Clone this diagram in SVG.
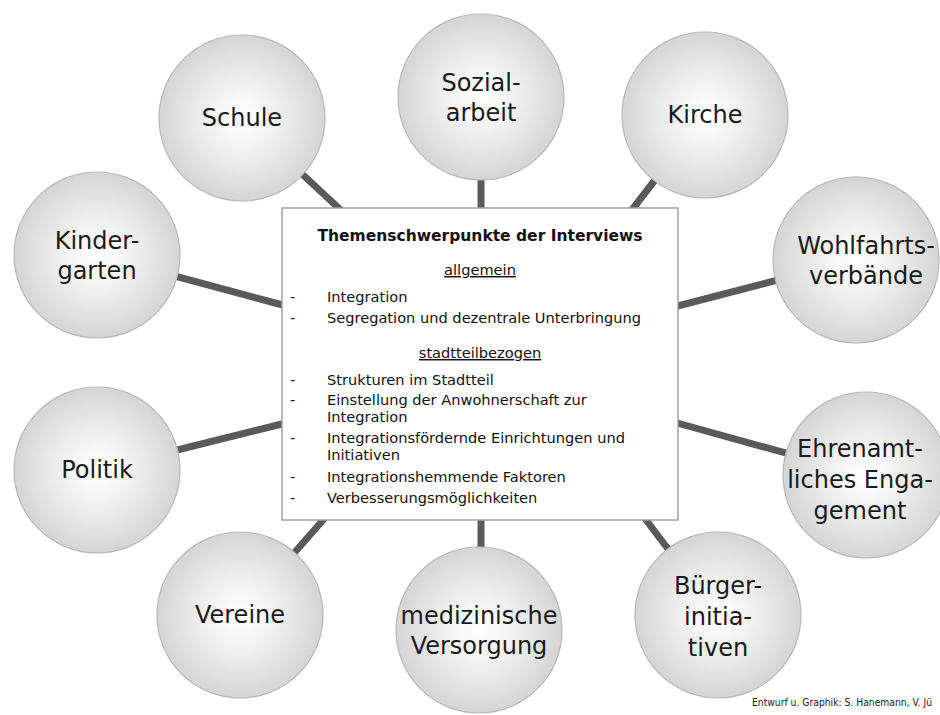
<svg xmlns="http://www.w3.org/2000/svg" width="940" height="715" viewBox="0 0 940 715">
<style>
.conn{stroke:#5a5a5a;stroke-width:7;fill:none}
.node circle{fill:url(#g);stroke:#b8b8b8;stroke-width:1.2}
.lbl{font-family:"DejaVu Sans","Liberation Sans",sans-serif;font-size:24px;fill:#1a1a1a;text-anchor:middle}
.bx{font-family:"DejaVu Sans","Liberation Sans",sans-serif;font-size:14.6px;fill:#111}
.c{text-anchor:middle}
.t{font-weight:bold;font-size:15.5px}
.u{text-decoration:underline}
.foot{font-family:"DejaVu Sans","Liberation Sans",sans-serif;font-size:10.5px;fill:#222}
</style>
<defs>
<radialGradient id="g" cx="50%" cy="50%" r="50%">
<stop offset="0%" stop-color="#ffffff"/>
<stop offset="30%" stop-color="#f6f6f6"/>
<stop offset="100%" stop-color="#d5d5d5"/>
</radialGradient>
</defs>
<rect width="940" height="715" fill="#fff"/>
<g id="connectors">
<line class="conn" x1="242" y1="118" x2="345" y2="214"/>
<line class="conn" x1="481" y1="97" x2="481" y2="215"/>
<line class="conn" x1="705" y1="115" x2="628" y2="215"/>
<line class="conn" x1="855" y1="260" x2="670" y2="308"/>
<line class="conn" x1="865" y1="475" x2="670" y2="421"/>
<line class="conn" x1="718" y1="615" x2="640" y2="512"/>
<line class="conn" x1="481" y1="630" x2="481" y2="512"/>
<line class="conn" x1="240" y1="615" x2="330" y2="512"/>
<line class="conn" x1="97" y1="470" x2="290" y2="422"/>
<line class="conn" x1="97" y1="255" x2="290" y2="307"/>
</g>
<g id="center">
<rect x="282" y="208" width="396" height="312" fill="#fff" stroke="#a0a0a0" stroke-width="1.5"/>
<text class="bx c t" x="480" y="241">Themenschwerpunkte der Interviews</text>
<text class="bx c u" x="480" y="275">allgemein</text>
<text class="bx" x="290" y="302">-</text><text class="bx" x="327" y="302">Integration</text>
<text class="bx" x="290" y="323">-</text><text class="bx" x="327" y="323">Segregation und dezentrale Unterbringung</text>
<text class="bx c u" x="480" y="358">stadtteilbezogen</text>
<text class="bx" x="290" y="385">-</text><text class="bx" x="327" y="385">Strukturen im Stadtteil</text>
<text class="bx" x="290" y="405">-</text><text class="bx" x="327" y="405">Einstellung der Anwohnerschaft zur</text>
<text class="bx" x="327" y="422">Integration</text>
<text class="bx" x="290" y="443">-</text><text class="bx" x="327" y="443">Integrationsfördernde Einrichtungen und</text>
<text class="bx" x="327" y="460">Initiativen</text>
<text class="bx" x="290" y="482">-</text><text class="bx" x="327" y="482">Integrationshemmende Faktoren</text>
<text class="bx" x="290" y="503">-</text><text class="bx" x="327" y="503">Verbesserungsmöglichkeiten</text>
</g>
<g id="schule" class="node"><circle cx="242" cy="118" r="83"/><text class="lbl" x="242" y="126">Schule</text></g>
<g id="sozialarbeit" class="node"><circle cx="481" cy="97" r="83"/><text class="lbl" x="481" y="91">Sozial-</text><text class="lbl" x="481" y="121">arbeit</text></g>
<g id="kirche" class="node"><circle cx="705" cy="115" r="83"/><text class="lbl" x="705" y="123">Kirche</text></g>
<g id="wohlfahrt" class="node"><circle cx="856" cy="260" r="83"/><text class="lbl" x="866" y="254">Wohlfahrts-</text><text class="lbl" x="866" y="284">verbände</text></g>
<g id="ehrenamt" class="node"><circle cx="866" cy="475" r="83"/><text class="lbl" x="860" y="457">Ehrenamt-</text><text class="lbl" x="860" y="488">liches Enga-</text><text class="lbl" x="860" y="519">gement</text></g>
<g id="buerger" class="node"><circle cx="718" cy="615" r="83"/><text class="lbl" x="718" y="594">Bürger-</text><text class="lbl" x="718" y="625">initia-</text><text class="lbl" x="718" y="656">tiven</text></g>
<g id="medizin" class="node"><circle cx="479" cy="630" r="83"/><text class="lbl" x="479" y="624">medizinische</text><text class="lbl" x="479" y="654">Versorgung</text></g>
<g id="vereine" class="node"><circle cx="240" cy="615" r="83"/><text class="lbl" x="240" y="623">Vereine</text></g>
<g id="politik" class="node"><circle cx="97" cy="470" r="83"/><text class="lbl" x="97" y="478">Politik</text></g>
<g id="kindergarten" class="node"><circle cx="97" cy="255" r="83"/><text class="lbl" x="97" y="249">Kinder-</text><text class="lbl" x="97" y="279">garten</text></g>
<text class="foot" x="752" y="706" textLength="180" lengthAdjust="spacingAndGlyphs">Entwurf u. Graphik: S. Hanemann, V. Jü</text>
</svg>
